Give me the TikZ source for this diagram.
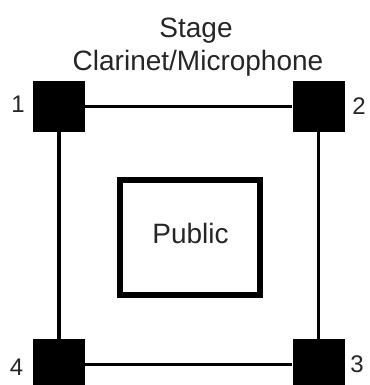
\documentclass[tikz,border=0pt]{standalone}
\usepackage{fontspec}
\setmainfont{Liberation Sans}
\tikzset{
  mic/.style={draw=none, fill=black, minimum width=52pt, minimum height=51pt, inner sep=0pt},
  wire/.style={line width=3.5pt, black},
  lbl/.style={font=\fontsize{28}{30}\selectfont, text=black!85, anchor=base, inner sep=0pt},
  num/.style={font=\fontsize{24}{26}\selectfont, text=black!85, anchor=base, inner sep=0pt},
  publicbox/.style={draw=black, line width=6pt, minimum width=140pt, minimum height=115pt, inner sep=0pt}
}
\begin{document}
\begin{tikzpicture}[x=1pt,y=-1pt]
\useasboundingbox (0,0) rectangle (369,385);
\clip (0,0) rectangle (369,385);
\node[mic] (n1) at (59,106.5) {};
\node[mic] (n2) at (318.5,106.5) {};
\node[mic] (n3) at (318.5,364.5) {};
\node[mic] (n4) at (59,364.5) {};
\draw[wire] (n1) -- (n2);
\draw[wire] (n2) -- (n3);
\draw[wire] (n3) -- (n4);
\draw[wire] (n4) -- (n1);
\node[mic] at (n1) {};
\node[mic] at (n2) {};
\node[mic] at (n3) {};
\node[mic] at (n4) {};
\node[publicbox] (pub) at (190,237.5) {};
\node[lbl] (publbl) at (190.5,243) {Public};
\node[lbl] (stage) at (196,38) {Stage};
\node[lbl] (clar) at (198,71) {Clarinet/Microphone};
\node[num] (l1) at (18,113) {1};
\node[num] (l2) at (359,114) {2};
\node[num] (l3) at (357,372) {3};
\node[num] (l4) at (16.5,375) {4};
\end{tikzpicture}
\end{document}
